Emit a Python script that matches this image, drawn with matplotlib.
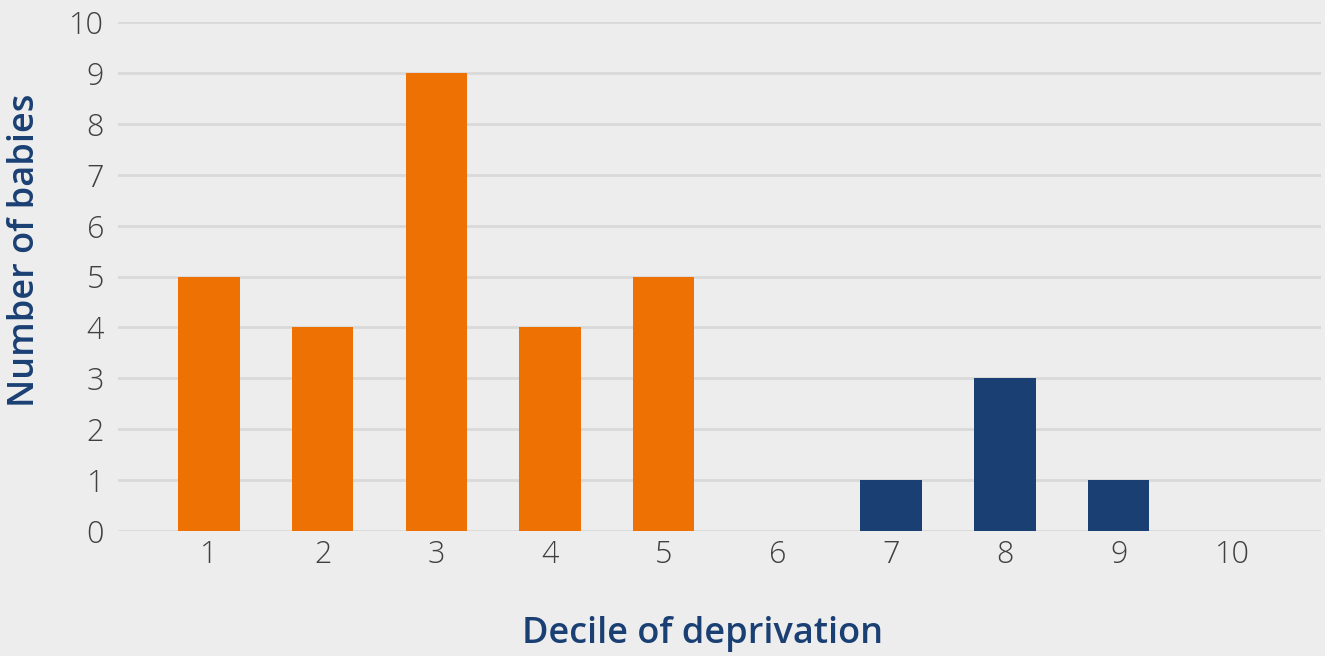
import matplotlib
matplotlib.use("Agg")
import matplotlib.pyplot as plt

deciles = ["1", "2", "3", "4", "5", "6", "7", "8", "9", "10"]
babies = [5, 4, 9, 4, 5, 0, 1, 3, 1, 0]
bar_colors = ["#EE7203"] * 5 + ["#1A3F73"] * 5

plt.rcParams['font.family'] = ['Open Sans', 'DejaVu Sans']

fig = plt.figure(figsize=(13.25, 6.56), dpi=100)
fig.patch.set_facecolor("#EDEDED")
ax = fig.add_axes([118/1325, (656-531)/656, (1321-118)/1325, (531-22)/656])
ax.set_facecolor("#EDEDED")

x = list(range(len(deciles)))
ax.bar(x, babies, width=0.54, color=bar_colors, zorder=3)
ax.set_xticks(x)
ax.set_xticklabels(deciles)
ax.set_xlim(-0.8, 9.78)
ax.set_ylim(0, 10)
ax.set_yticks(range(0, 11))
ax.yaxis.grid(True, color="#D9D9D9", linewidth=2, zorder=0)
ax.set_axisbelow(True)
for s in ax.spines.values():
    s.set_visible(False)
ax.tick_params(axis='both', length=0, labelsize=22, labelcolor="#404040")
for lab in ax.get_xticklabels() + ax.get_yticklabels():
    lab.set_fontweight("light")
ax.tick_params(axis='y', pad=10)
ax.tick_params(axis='x', pad=6)

fig.text(703/1325, 1 - 634/656, "Decile of deprivation", ha="center", va="center",
         fontsize=26, fontweight="semibold", color="#1A3F73")
fig.text(25/1325, 1 - 250/656, "Number of babies", ha="center", va="center",
         rotation=90, fontsize=26, fontweight="semibold", color="#1A3F73")

fig.savefig("out.png", dpi=100, facecolor=fig.get_facecolor())
